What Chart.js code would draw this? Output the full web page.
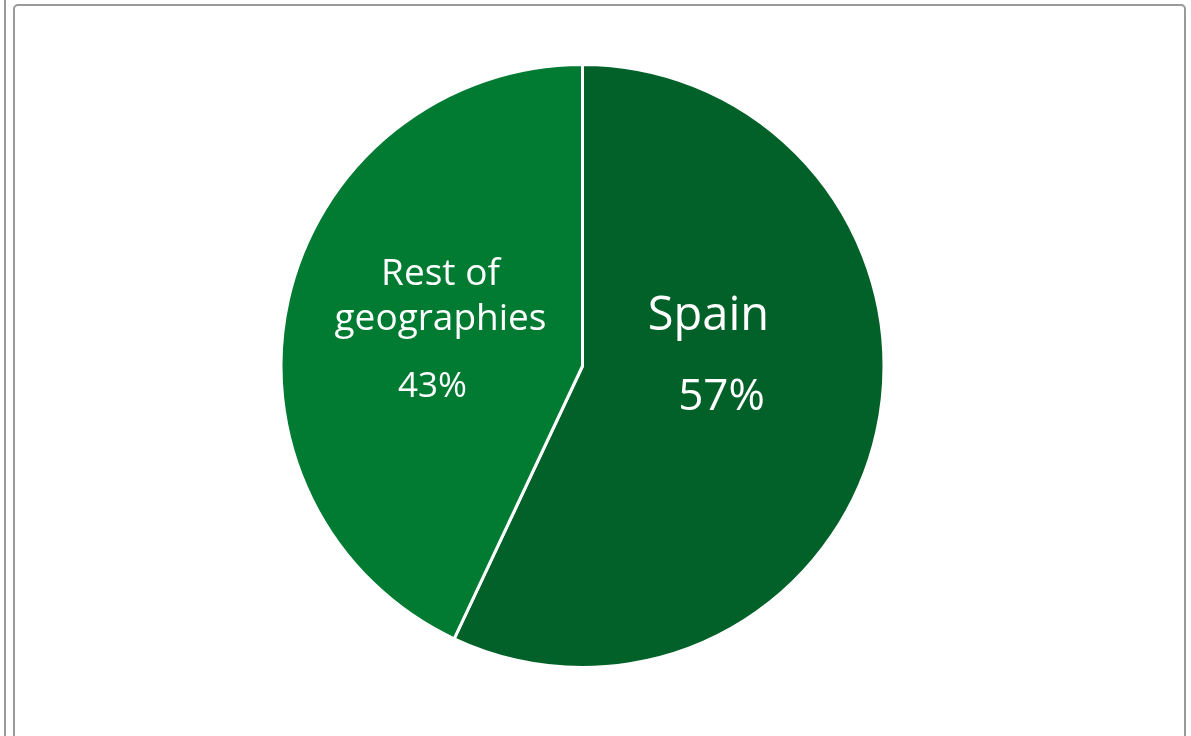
<!DOCTYPE html>
<html>
<head>
<meta charset="utf-8">
<script src="https://cdn.jsdelivr.net/npm/chart.js@4/dist/chart.umd.min.js"></script>
<style>
  html, body { margin: 0; padding: 0; background: #fff; overflow: hidden; }
  body { width: 1191px; height: 736px; position: relative; }
  .frame { position: absolute; border: 2px solid #9a9a9a; border-radius: 5px; box-sizing: border-box; }
  #leftFrame { left: -40px; top: -20px; width: 46px; height: 800px; }
  #mainFrame { left: 13px; top: 4px; width: 1173px; height: 800px; }
  #wrap { position: absolute; left: 0; top: 63px; width: 1165px; height: 606px; }
</style>
</head>
<body>
<div class="frame" id="leftFrame"></div>
<div class="frame" id="mainFrame"></div>
<div id="wrap"><canvas id="geoPie"></canvas></div>
<script>
const categories = ['Spain', 'Rest of geographies'];
const shares = [57, 43];
const sliceColors = ['#026128', '#017a32'];

// text lines per slice: offset of the baseline from the pie centre, font size
const labelStyles = [
  [{ dx: 126, dy: -36, size: 47 }, { dx: 139, dy: 44, size: 44 }],
  [{ dx: -142, dy: -81, size: 37 }, { dx: -142, dy: -36, size: 37 }, { dx: -150, dy: 31, size: 35 }],
];

const sliceLabels = {
  id: 'sliceLabels',
  afterDatasetsDraw(chart) {
    const { ctx } = chart;
    const arc = chart.getDatasetMeta(0).data[0];
    const cx = arc.x, cy = arc.y;
    ctx.save();
    ctx.fillStyle = '#ffffff';
    ctx.textAlign = 'center';
    ctx.textBaseline = 'alphabetic';
    categories.forEach((name, i) => {
      const words = i === 1 ? ['Rest of', 'geographies'] : [name];
      const texts = [...words, shares[i] + '%'];
      texts.forEach((t, j) => {
        const st = labelStyles[i][j];
        ctx.font = st.size + 'px "Open Sans", Roboto, sans-serif';
        ctx.fillText(t, cx + st.dx, cy + st.dy);
      });
    });
    ctx.restore();
  },
};

new Chart(document.getElementById('geoPie'), {
  type: 'pie',
  data: {
    labels: categories,
    datasets: [{
      data: shares,
      backgroundColor: sliceColors,
      borderColor: '#ffffff',
      borderWidth: 3,
    }],
  },
  options: {
    responsive: true,
    maintainAspectRatio: false,
    animation: false,
    layout: { padding: 0 },
    plugins: {
      legend: { display: false },
      tooltip: { enabled: false },
    },
  },
  plugins: [sliceLabels],
});
</script>
</body>
</html>
